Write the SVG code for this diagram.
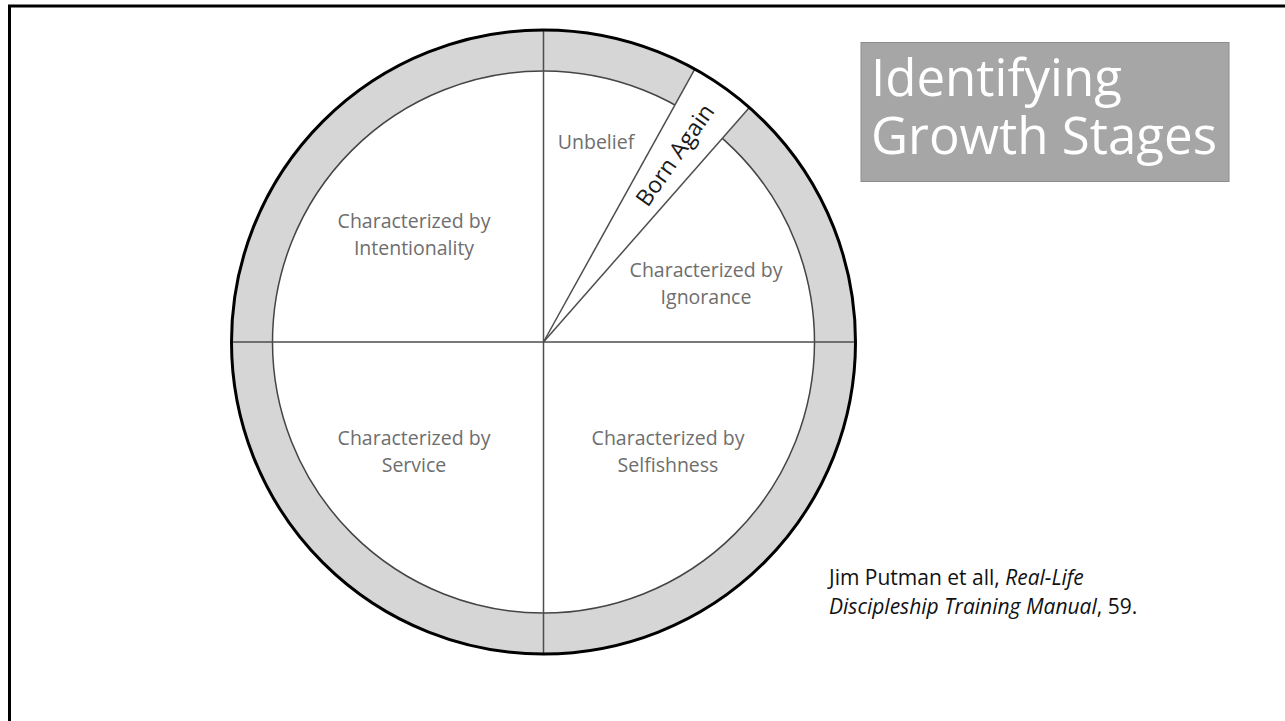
<svg xmlns="http://www.w3.org/2000/svg" width="1285" height="721" viewBox="0 0 1285 721">
<style>
.lbl{font-family:"Open Sans","Noto Sans",sans-serif;font-size:19.5px;fill:#6e6e6e;text-anchor:middle}
.div{stroke:#4d4d4d;stroke-width:1.5;fill:none}
.title{font-family:"Open Sans","Noto Sans",sans-serif;font-size:51px;fill:#ffffff}
.cite{font-family:"Open Sans","Noto Sans",sans-serif;font-size:21px;fill:#111111}
</style>
<rect x="0" y="0" width="1285" height="721" fill="#ffffff"/>
<path d="M9.5 721 V6 H1285" fill="none" stroke="#000000" stroke-width="3"/>
<g id="wheel">
  <circle cx="543.5" cy="342" r="312" fill="#d6d6d6"/>
  <circle cx="543.5" cy="342" r="271" fill="#ffffff" stroke="#444444" stroke-width="1.5"/>
  <path d="M543.5 342 L694.8 69.1 A312 312 0 0 1 749.4 107.6 Z" fill="#ffffff"/>
</g>
<g id="connectors">
  <line class="div" x1="543.5" y1="30" x2="543.5" y2="654"/>
  <line class="div" x1="231.5" y1="342" x2="855.5" y2="342"/>
  <line class="div" x1="543.5" y1="342" x2="694.8" y2="69.1"/>
  <line class="div" x1="543.5" y1="342" x2="749.4" y2="107.6"/>
</g>
<circle cx="543.5" cy="342" r="312" fill="none" stroke="#000000" stroke-width="3"/>
<g id="unbelief"><text class="lbl" x="596" y="149">Unbelief</text></g>
<g id="born-again"><text x="0" y="0" transform="translate(675 155) rotate(-55)" font-family="'Open Sans','Noto Sans',sans-serif" font-size="23" fill="#1a1a1a" text-anchor="middle" dy="8">Born Again</text></g>
<g id="ignorance"><text class="lbl" x="706" y="277">Characterized by</text><text class="lbl" x="706" y="304">Ignorance</text></g>
<g id="intentionality"><text class="lbl" x="414" y="228">Characterized by</text><text class="lbl" x="414" y="255">Intentionality</text></g>
<g id="service"><text class="lbl" x="414" y="445">Characterized by</text><text class="lbl" x="414" y="472">Service</text></g>
<g id="selfishness"><text class="lbl" x="668" y="445">Characterized by</text><text class="lbl" x="668" y="472">Selfishness</text></g>
<g id="title">
  <rect x="861" y="42.5" width="368" height="139" fill="#a6a6a6" stroke="#8c8c8c" stroke-width="1"/>
  <text class="title"><tspan x="871" y="96">Identifying</tspan><tspan x="871" y="154">Growth Stages</tspan></text>
</g>
<g id="citation">
  <text class="cite" x="829" y="585">Jim Putman et all, <tspan font-style="italic">Real-Life</tspan></text>
  <text class="cite" x="829" y="614"><tspan font-style="italic">Discipleship Training Manual</tspan>, 59.</text>
</g>
</svg>
